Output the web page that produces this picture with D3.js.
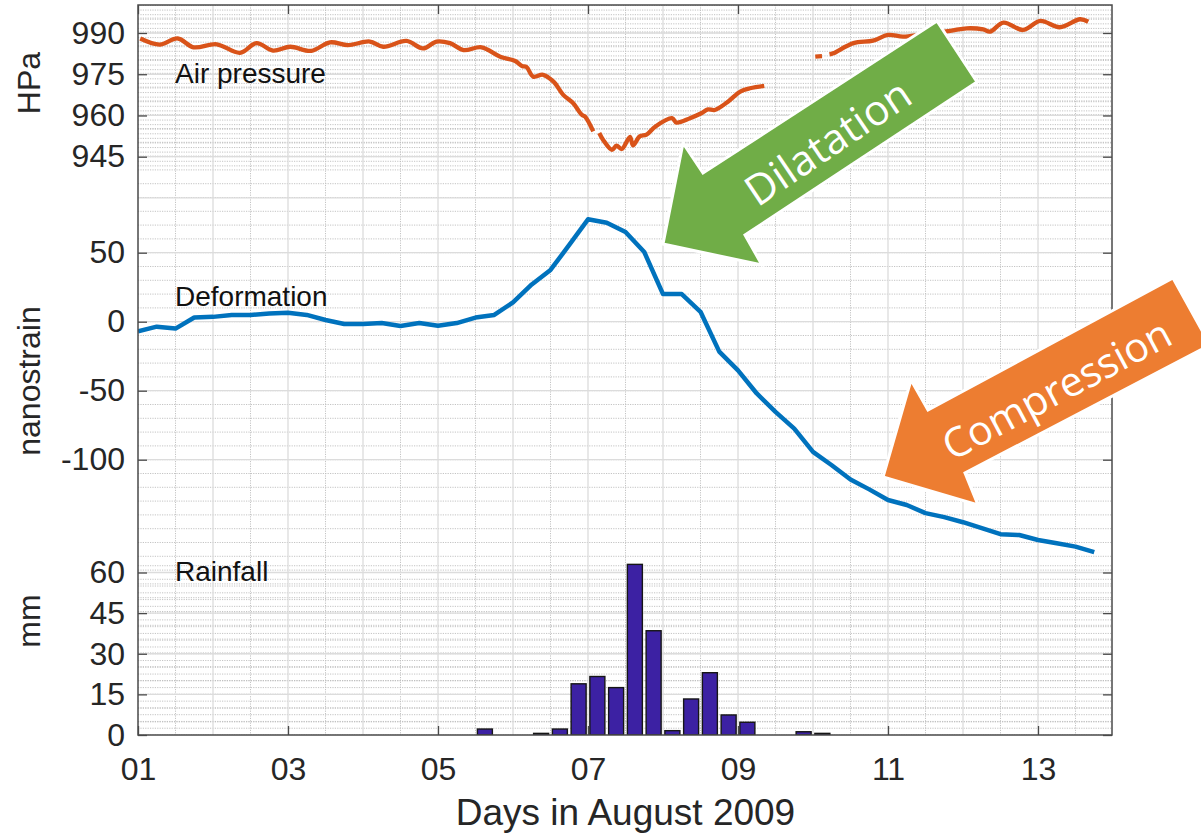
<!DOCTYPE html>
<html>
<head>
<meta charset="utf-8">
<script src="https://cdn.jsdelivr.net/npm/d3@7"></script>
<style>
  html, body { margin: 0; padding: 0; background: #ffffff; }
  svg { display: block; }
  text { font-family: "Liberation Sans", Arial, sans-serif; }
</style>
</head>
<body>
<svg id="chart" width="1201" height="835"></svg>
<script>
// ---------------- DATA ----------------
const xTickDays = [1, 3, 5, 7, 9, 11, 13];
const xTickLabels = ["01", "03", "05", "07", "09", "11", "13"];

const pressureTicks = [945, 960, 975, 990];
const strainTicks = [-100, -50, 0, 50];
const rainTicks = [0, 15, 30, 45, 60];

// Air pressure (HPa), null marks gaps in the record
const pressureDays = [1.03, 1.29, 1.53, 1.74, 2.05, 2.36, 2.58, 2.80, 3.03, 3.31, 3.56, 3.80, 4.09, 4.27, 4.58, 4.80, 4.98, 5.16, 5.34, 5.58, 5.83, 6.03, 6.12, 6.18, 6.27, 6.40, 6.54, 6.67, 6.80, 6.92, 6.96, 7.07, 7.11,
  7.15, 7.20, 7.32, 7.38, 7.45, 7.56, 7.60, 7.69, 7.78, 7.90, 8.12, 8.18, 8.36, 8.51, 8.60, 8.69, 8.87, 9.03, 9.16, 9.35, 9.7,
  10.03, 10.12, 10.17,
  10.22, 10.27, 10.54, 10.80, 11.00, 11.20, 11.45, 11.83, 12.05, 12.27, 12.36, 12.54, 12.80, 13.03, 13.29, 13.56, 13.67];
const pressureValues = [988.0, 985.8, 988.0, 984.8, 985.9, 982.8, 986.3, 983.6, 985.0, 983.5, 986.6, 985.6, 986.9, 985.0, 987.1, 984.4, 986.9, 986.3, 983.8, 984.8, 981.4, 979.8, 978.0, 977.6, 974.1, 974.8, 972.3, 967.5, 964.5, 960.2, 959.6, 954.2, null,
  953.6, 951.2, 947.5, 949.0, 947.8, 952.2, 949.1, 952.4, 953.0, 956.0, 959.0, 957.4, 959.0, 960.8, 962.2, 962.0, 965.1, 968.7, 969.9, 970.8, null,
  981.4, 981.6, null,
  982.2, 982.6, 986.3, 987.2, 989.3, 988.7, 989.5, 990.8, 991.7, 991.3, 990.5, 993.8, 991.1, 994.4, 992.1, 995.0, 994.1];

// Deformation (nanostrain), every 6 hours from day 1.00
const strainDays = [1.00, 1.25, 1.50, 1.75, 2.00, 2.25, 2.50, 2.75, 3.00, 3.25, 3.50, 3.75, 4.00, 4.25, 4.50, 4.75, 5.00, 5.25, 5.50, 5.75, 6.00, 6.25, 6.50, 6.75, 7.00, 7.25, 7.50, 7.75, 8.00, 8.25, 8.50, 8.75, 9.00, 9.25, 9.50, 9.75, 10.00, 10.25, 10.50, 10.75, 11.00, 11.25, 11.50, 11.75, 12.00, 12.25, 12.50, 12.75, 13.00, 13.25, 13.50, 13.75];
const strainValues = [-7, -3.6, -5, 3, 3.5, 4.8, 4.9, 6, 6.5, 4.9, 1.2, -1.7, -1.7, -1, -3.1, -1, -3, -1, 3, 4.9, 14, 27, 37.5, 55.6, 74.2, 71.7, 65, 50.5, 20, 20, 7.2, -21.7, -35.3, -52, -65.3, -77.5, -94.3, -104, -114.3, -121.5, -129.2, -132.8, -138.7, -141.6, -145.3, -149.6, -154, -154.6, -158.2, -160.5, -163, -167];

// Rainfall (mm) per 6-hour period, centred on the period
const rainDays = [1.125, 1.375, 1.625, 1.875, 2.125, 2.375, 2.625, 2.875, 3.125, 3.375, 3.625, 3.875, 4.125, 4.375, 4.625, 4.875, 5.125, 5.375, 5.625, 5.875, 6.125, 6.375, 6.625, 6.875, 7.125, 7.375, 7.625, 7.875, 8.125, 8.375, 8.625, 8.875, 9.125, 9.375, 9.625, 9.875, 10.125, 10.375, 10.625, 10.875, 11.125, 11.375, 11.625, 11.875, 12.125, 12.375, 12.625, 12.875, 13.125, 13.375];
const rainValues = [0, 0, 0, 0, 0, 0, 0, 0, 0, 0, 0, 0, 0, 0, 0, 0, 0, 0, 2.2, 0, 0, 0.6, 2.2, 18.9, 21.6, 17.5, 63, 38.5, 1.6, 13.3, 23, 7.4, 4.7, 0, 0, 1.2, 0.6, 0, 0, 0, 0, 0, 0, 0, 0, 0, 0, 0, 0, 0];

// ---------------- LAYOUT ----------------
const PL = 138, PR = 1112, PT = 5, PB = 735;
const svg = d3.select("#chart");

const x = d3.scaleLinear().domain([1, 14]).range([PL, PL + 13 * 75]);
const yP = d3.scaleLinear().domain([945, 990]).range([156.7, 33]);
const yS = d3.scaleLinear().domain([-100, 50]).range([459.7, 252.7]);
const yR = d3.scaleLinear().domain([0, 60]).range([735, 572.5]);

const clipId = "plotclip";
svg.append("defs").append("clipPath").attr("id", clipId)
  .append("rect").attr("x", PL).attr("y", PT).attr("width", PR - PL).attr("height", PB - PT);

const grid = svg.append("g").attr("clip-path", `url(#${clipId})`);
const minorStyle = { stroke: "#bdbdbd", "stroke-width": 0.9, "stroke-dasharray": "1.2,1.2" };
const majorStyle = { stroke: "#dcdcdc", "stroke-width": 1.3 };

function hline(y, st) {
  const l = grid.append("line").attr("x1", PL).attr("x2", PR).attr("y1", y).attr("y2", y);
  Object.entries(st).forEach(([k, v]) => l.attr(k, v));
}
function vline(xx, st) {
  const l = grid.append("line").attr("y1", PT).attr("y2", PB).attr("x1", xx).attr("x2", xx);
  Object.entries(st).forEach(([k, v]) => l.attr(k, v));
}

for (let v = -300; v <= 240; v += 10) {
  const yy = yS(v);
  if (yy >= PT && yy <= PB) hline(yy, minorStyle);
}
for (let v = 930; v <= 1000; v += 5 / 3) {
  const yy = yP(v);
  if (yy >= PT && yy <= 170) hline(yy, minorStyle);
}
for (let v = 0; v <= 75; v += 2.5) {
  const yy = yR(v);
  if (yy >= 560 && yy <= PB) hline(yy, minorStyle);
}
for (let d = 1.5; d < 14; d += 1) vline(x(d), minorStyle);
for (let d = 2; d < 14; d += 1) vline(x(d), majorStyle);
[930, 945, 960, 975, 990].forEach(v => hline(yP(v), majorStyle));
strainTicks.forEach(v => hline(yS(v), majorStyle));
[15, 30, 45, 60].forEach(v => hline(yR(v), majorStyle));

// ---------------- MARKS ----------------
const marks = svg.append("g").attr("clip-path", `url(#${clipId})`);

const barW = x(1.2) - x(1.0);
marks.selectAll("rect.bar").data(rainDays.map((d, i) => ({ d, v: rainValues[i] })))
  .join("rect").attr("class", "bar")
  .attr("x", p => x(p.d) - barW / 2)
  .attr("width", barW)
  .attr("y", p => yR(p.v))
  .attr("height", p => yR(0) - yR(p.v))
  .attr("fill", "#3c21a3")
  .attr("stroke", "#161616")
  .attr("stroke-width", 1.4);

const pData = pressureDays.map((d, i) => ({ d, v: pressureValues[i] }));
marks.append("path").datum(pData)
  .attr("fill", "none").attr("stroke", "#D95319").attr("stroke-width", 4.3)
  .attr("stroke-linejoin", "round")
  .attr("d", d3.line().defined(p => p.v !== null).x(p => x(p.d)).y(p => yP(p.v)).curve(d3.curveCatmullRom.alpha(0.5)));

const sData = strainDays.map((d, i) => ({ d, v: strainValues[i] }));
marks.append("path").datum(sData)
  .attr("fill", "none").attr("stroke", "#0072BD").attr("stroke-width", 4.5)
  .attr("stroke-linejoin", "round")
  .attr("d", d3.line().x(p => x(p.d)).y(p => yS(p.v)));

// ---------------- AXES ----------------
const axisColor = "#262626";
const tickFont = 32;
function styleAxis(g, fs) {
  g.select(".domain").remove();
  g.selectAll(".tick line").attr("stroke", "#4a4a4a").attr("stroke-width", 1.3);
  g.selectAll(".tick text").attr("fill", axisColor).style("font-size", fs + "px")
    .style("font-family", "'Liberation Sans', Arial, sans-serif");
}
const tickLen = 9;
[[yP, pressureTicks], [yS, strainTicks], [yR, rainTicks]].forEach(([s, tv]) => {
  const g = svg.append("g").attr("transform", `translate(${PL},0)`)
    .call(d3.axisLeft(s).tickValues(tv).tickSizeInner(-tickLen).tickSizeOuter(0).tickPadding(13)
      .tickFormat(d => String(d)));
  styleAxis(g, tickFont);
  const g2 = svg.append("g").attr("transform", `translate(${PR},0)`)
    .call(d3.axisRight(s).tickValues(tv).tickSizeInner(-tickLen).tickSizeOuter(0).tickFormat(""));
  styleAxis(g2, tickFont);
});

const bottomAxis = svg.append("g").attr("transform", `translate(0,${PB})`)
  .call(d3.axisBottom(x).tickValues(xTickDays).tickSizeInner(-tickLen).tickSizeOuter(0).tickPadding(22)
    .tickFormat((d, i) => xTickLabels[i]));
styleAxis(bottomAxis, tickFont);
const topAxis = svg.append("g").attr("transform", `translate(0,${PT})`)
  .call(d3.axisTop(x).tickValues(xTickDays).tickSizeInner(-tickLen).tickSizeOuter(0).tickFormat(""));
styleAxis(topAxis, tickFont);

svg.append("rect").attr("x", PL).attr("y", PT).attr("width", PR - PL).attr("height", PB - PT)
  .attr("fill", "none").attr("stroke", "#4a4a4a").attr("stroke-width", 1.5);

function vTitle(txt, cy) {
  svg.append("text").attr("transform", `translate(40,${cy}) rotate(-90)`)
    .attr("text-anchor", "middle")
    .attr("fill", axisColor).style("font-size", "32px").text(txt);
}
vTitle("HPa", 83);
vTitle("nanostrain", 381);
vTitle("mm", 621);
svg.append("text").attr("x", x(7.5)).attr("y", 825).attr("text-anchor", "middle")
  .attr("fill", axisColor).style("font-size", "37px").text("Days in August 2009");

function lab(txt, xx, yy) {
  svg.append("text").attr("x", xx).attr("y", yy).attr("fill", "#111").style("font-size", "28px").text(txt);
}
lab("Air pressure", 175, 83);
lab("Deformation", 175, 306);
lab("Rainfall", 175, 581);

// ---------------- ARROWS ----------------
function arrow(pts, color) {
  svg.append("polygon").attr("points", pts.map(p => p.join(",")).join(" "))
    .attr("fill", color).attr("stroke", "#ffffff").attr("stroke-width", 3).attr("stroke-linejoin", "miter");
}
arrow([[663, 244], [683, 143], [703, 173], [937, 21], [977, 82], [745, 235], [762, 265]], "#70AD47");
arrow([[883, 477], [911, 380], [928, 410], [1173, 278], [1210, 345], [965, 473], [978, 505]], "#ED7D31");

function arrowText(txt, cx, cy, ang, fs) {
  svg.append("text").attr("transform", `translate(${cx},${cy}) rotate(${ang})`)
    .attr("text-anchor", "middle").attr("dominant-baseline", "central")
    .attr("fill", "#ffffff").style("font-family", "'Open Sans', 'Noto Sans', sans-serif")
    .style("font-size", fs + "px").text(txt);
}
arrowText("Dilatation", 827, 141, -34, 42);
arrowText("Compression", 1056, 388, -28, 41);
</script>
</body>
</html>
